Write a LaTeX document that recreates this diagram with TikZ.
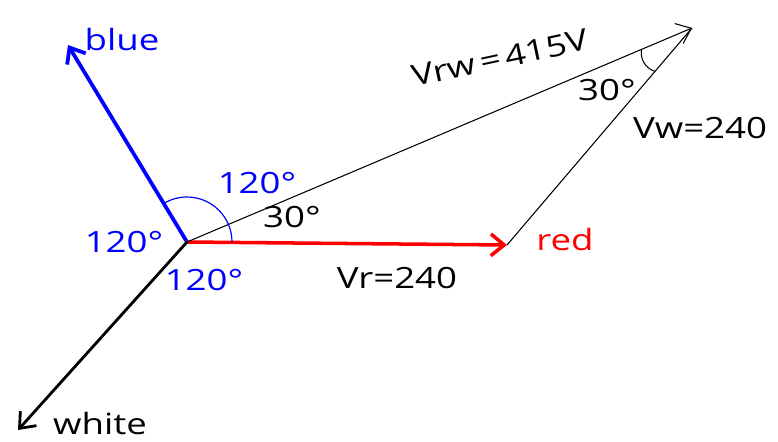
\documentclass[tikz,border=0pt]{standalone}
\usepackage{fontspec}
\setmainfont[FakeStretch=1.25]{Open Sans}
\usetikzlibrary{arrows.meta,calc}

\begin{document}
\begin{tikzpicture}[
  x=0.03cm, y=-0.03cm,
  font=\fontsize{25}{29}\selectfont,
  ph/.style={line cap=round, -{Straight Barb[length=4mm,width=6.5mm]}},
  lbl/.style={inner sep=1pt}]
\useasboundingbox (0,0) rectangle (778,441);
% phasor points
\coordinate (o) at (187,242);
\coordinate (b) at (68,45);
\coordinate (r) at (507,245);
\coordinate (w) at (18,430);
\coordinate (rw) at (692,28);
% phase vectors
\draw[ph, blue, line width=3.2pt] (o) -- (b);
\draw[ph, red, line width=3pt] (o) -- (r);
\draw[ph, black, line width=2.4pt] (o) -- (w);
\draw[ph, line width=0.9pt] (o) -- (rw);
\draw[line width=0.9pt] (r) -- (rw);
% angle arcs
\draw[blue, line width=1pt] ([xshift=45*0.03cm]o) arc[start angle=0, end angle=121, radius=45*0.03cm];
\draw[line width=0.9pt] ($(rw)!0.1!(o)$) to[bend right=40] ($(rw)!0.2!(r)$);
% labels
\node[lbl, blue] (nb) at (122,40) {blue};
\node[lbl, red] (nr) at (565,240) {red};
\node[lbl] (nw) at (100,424) {white};
\node[lbl, rotate=12] (nvrw) at (500,58) {Vrw\,=\,415V};
\node[lbl] (nvw) at (700,128) {Vw=240};
\node[lbl] (nvr) at (397,278) {Vr=240};
\node[lbl] (na1) at (607,90) {30°};
\node[lbl] (na2) at (292,217) {30°};
\node[lbl, blue] (nb1) at (257,183) {120°};
\node[lbl, blue] (nb2) at (124,242) {120°};
\node[lbl, blue] (nb3) at (204,280) {120°};
\end{tikzpicture}
\end{document}
